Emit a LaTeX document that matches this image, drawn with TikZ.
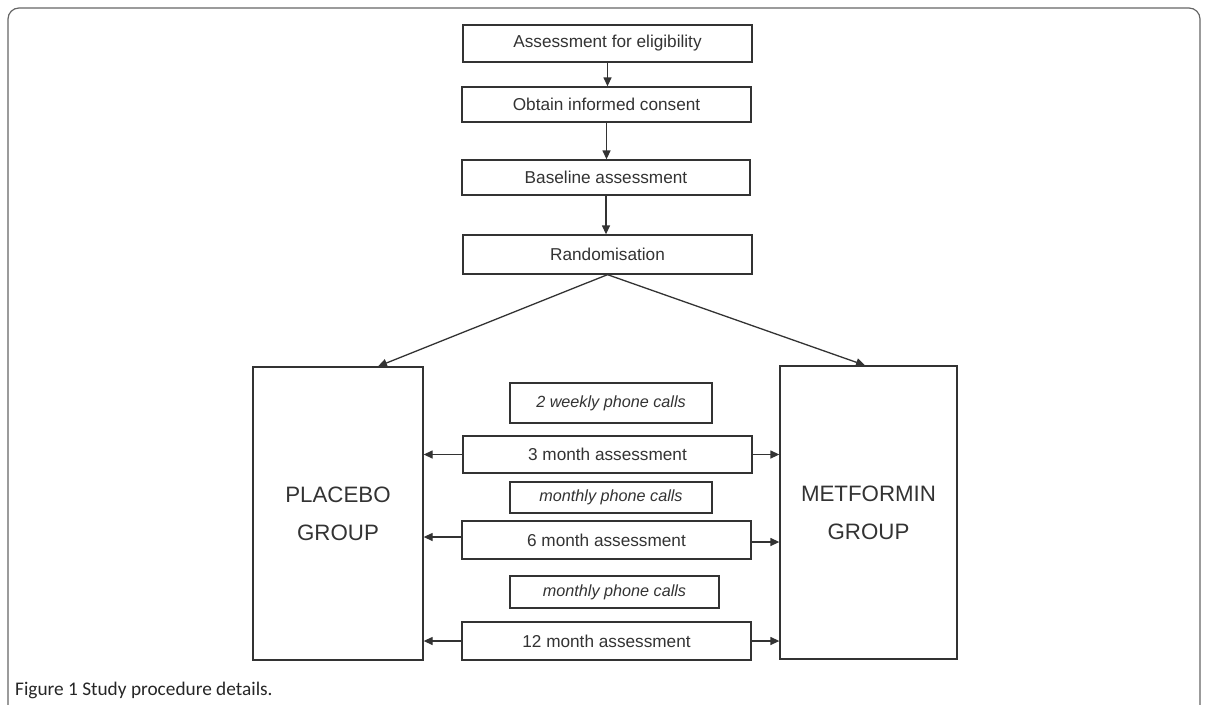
\documentclass[tikz,border=0pt]{standalone}
\usepackage{fontspec}
\setmainfont{Liberation Sans}
\newfontfamily\capfont{Carlito}
\usetikzlibrary{arrows.meta}
\definecolor{linegray}{HTML}{333333}
\definecolor{textgray}{HTML}{333333}
\definecolor{framegray}{HTML}{666666}
\tikzset{
  box/.style={draw=linegray, line width=1.3pt, fill=white, inner sep=0pt, text=textgray,
    font=\fontsize{17.2}{20}\selectfont},
  callbox/.style={box, font=\fontsize{16.2}{20}\selectfont\itshape},
  groupbox/.style={box, align=center, font=\fontsize{22.3}{38}\selectfont},
  arr/.style={draw=linegray, line width=1.3pt, -{Triangle[length=9pt,width=8pt]}},
}
\begin{document}
\begin{tikzpicture}[x=1pt,y=-1pt]
\useasboundingbox (0,0) rectangle (1206,704);
\begin{scope}
\clip (0,0) rectangle (1206,704);
\draw[framegray, line width=1.2pt, rounded corners=11pt] (8,8) rectangle (1200,724);
\end{scope}

\node[box, minimum width=289pt, minimum height=37pt] (elig) at (607.5,43.5) {Assessment for eligibility};
\node[box, minimum width=289pt, minimum height=35pt] (consent) at (606.5,104.5) {Obtain informed consent};
\node[box, minimum width=288pt, minimum height=35pt] (base) at (606,177.5) {Baseline assessment};
\node[box, minimum width=289pt, minimum height=39pt] (rand) at (607.5,254.5) {Randomisation};

\node[groupbox, minimum width=170pt, minimum height=293pt] (placebo) at (338,513.5) {PLACEBO\\GROUP};
\node[groupbox, minimum width=177pt, minimum height=293pt] (metformin) at (868.5,512.5) {METFORMIN\\GROUP};

\node[callbox, minimum width=202pt, minimum height=40pt] (weekly) at (611,403) {2 weekly phone calls};
\node[box, minimum width=289pt, minimum height=37pt] (m3) at (607.5,454.5) {3 month assessment};
\node[callbox, minimum width=202pt, minimum height=31pt] (monthlyA) at (611,497.5) {monthly phone calls};
\node[box, minimum width=289pt, minimum height=38pt] (m6) at (606.5,540) {6 month assessment};
\node[callbox, minimum width=209pt, minimum height=32pt] (monthlyB) at (614.5,592) {monthly phone calls};
\node[box, minimum width=289pt, minimum height=38pt] (m12) at (606.5,641) {12 month assessment};

\draw[arr] (elig.south) -- (elig.south |- consent.north);
\draw[arr] (consent.south) -- (consent.south |- base.north);
\draw[arr] (base.south) -- (base.south |- rand.north);
\draw[arr] (rand.south) -- ([xshift=40pt]placebo.north);
\draw[arr] (rand.south) -- ([xshift=-3.5pt]metformin.north);

\draw[arr] (m3.west) -- (m3.west -| placebo.east);
\draw[arr] (m3.east) -- (m3.east -| metformin.west);
\draw[arr] ([yshift=3pt]m6.west) -- ([yshift=3pt]m6.west -| placebo.east);
\draw[arr] ([yshift=-2pt]m6.east) -- ([yshift=-2pt]m6.east -| metformin.west);
\draw[arr] (m12.west) -- (m12.west -| placebo.east);
\draw[arr] (m12.east) -- (m12.east -| metformin.west);

\node[anchor=base west, inner sep=0pt, text=black!85, font=\capfont\fontsize{19.3}{22}\selectfont] (caption) at (15,695) {Figure 1 Study procedure details.};
\end{tikzpicture}
\end{document}
